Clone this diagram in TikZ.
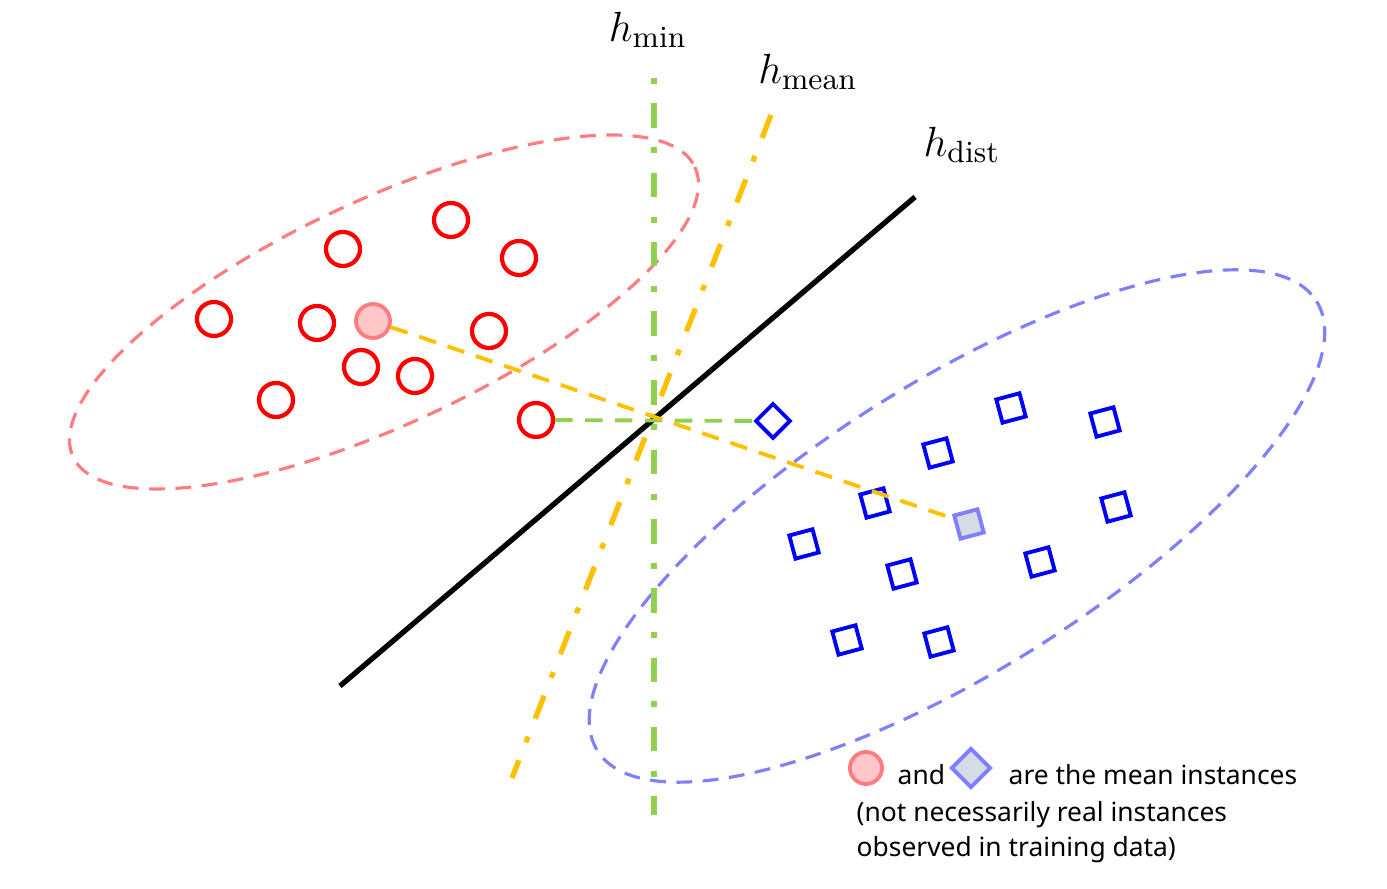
\documentclass[tikz,border=0pt]{standalone}
\usepackage{fontspec}
\newfontfamily\legfont{Noto Sans}
\usetikzlibrary{shapes.geometric}
\definecolor{hred}{HTML}{FF0000}
\definecolor{hblue}{HTML}{0000FF}
\definecolor{hgreen}{HTML}{92D050}
\definecolor{horange}{HTML}{FFC000}
\definecolor{hpink}{HTML}{FF7C80}
\definecolor{hlav}{HTML}{7F7FFF}
\definecolor{hgrey}{HTML}{D6DCE5}
\tikzset{
  posinst/.style={circle,draw=hred,line width=1.2pt,minimum size=0.34cm,inner sep=0pt},
  neginst/.style={rectangle,draw=hblue,line width=1.1pt,minimum size=0.24cm,inner sep=0pt,rotate=15},
  posmean/.style={circle,draw=hpink,fill=hred!22,line width=1.1pt,minimum size=0.34cm,inner sep=0pt},
  negmean/.style={rectangle,draw=hlav,fill=hgrey,line width=1.1pt,minimum size=0.24cm,inner sep=0pt,rotate=15},
  hyp/.style={line width=1.5pt},
  dashdot/.style={dash pattern=on 7pt off 5.5pt on 1.7pt off 5.5pt},
  clus/.style={dash pattern=on 4.5pt off 3pt,line width=0.9pt},
  proj/.style={dash pattern=on 5pt off 3.5pt,line width=1.1pt},
  hlab/.style={font=\fontsize{12.5}{15}\selectfont,inner sep=0pt},
  leg/.style={font=\legfont\fontsize{7.5}{10}\selectfont,inner sep=0pt,anchor=base west},
}
\begin{document}
\begin{tikzpicture}[x=0.01cm,y=-0.01cm]
    \useasboundingbox (0,0) rectangle (1387,889);
    \draw[clus,hpink,shift={(384,312)},rotate=25] (0,0) ellipse [x radius=343,y radius=112];
    \draw[clus,hlav,shift={(957,526)},rotate=32] (0,0) ellipse [x radius=424,y radius=145];
    \coordinate (mintop) at (654,78);
    \coordinate (minbot) at (654,815);
    \coordinate (meantop) at (771,115);
    \coordinate (meanbot) at (512,778);
    \coordinate (disttop) at (915,197);
    \coordinate (distbot) at (340,686);
    \draw[hyp,dashdot,dash phase=12.5pt,hgreen] (mintop) -- (minbot);
    \draw[hyp,dashdot,horange] (meantop) -- (meanbot);
    \draw[hyp,black] (disttop) -- (distbot);
    \node[hlab] (hmin) at (648,30) {$h_{\mathrm{min}}$};
    \node[hlab] (hmean) at (808,72) {$h_{\mathrm{mean}}$};
    \node[hlab] (hdist) at (962,145) {$h_{\mathrm{dist}}$};
    \foreach \x/\y [count=\i] in {343/249,451/220,519/258,214/319,317/323,489/331,361/367,415/376,276/400,536/420}
      \node[posinst] (p\i) at (\x,\y) {};
    \node[posmean] (pm) at (373,321) {};
    \foreach \x/\y [count=\i] in {1011/408,1105/422,938/453,875/503,1116/507,804/544,902/574,1040/562,847/640,939/642}
      \node[neginst] (n\i) at (\x,\y) {};
    \node[neginst,rotate=30] (nd) at (773,421) {};
    \node[negmean] (nm) at (969,524) {};
    \draw[proj,hgreen] (p10) -- (nd);
    \draw[proj,horange] (pm) -- (nm);
    \node[posmean,minimum size=0.32cm] (legc) at (866,768) {};
    \node[negmean,rotate=30,minimum size=0.27cm] (legd) at (971,768) {};
    \node[leg] (legand) at (897,785) {and};
    \node[leg] (legl1) at (1008,785) {are the mean instances};
    \node[leg] (legl2) at (856,822) {(not necessarily real instances};
    \node[leg] (legl3) at (856,857) {observed in training data)};
\end{tikzpicture}
\end{document}
